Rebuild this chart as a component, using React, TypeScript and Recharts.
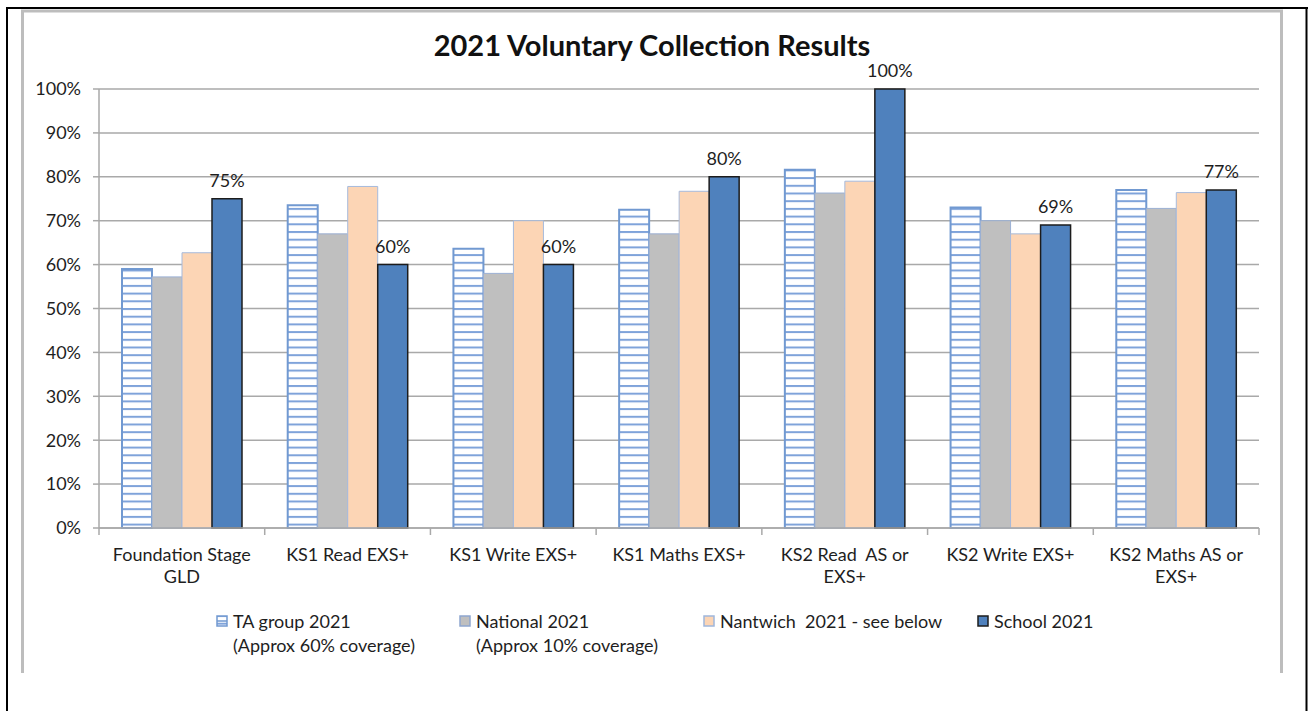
import React from 'react';
import { BarChart, Bar, XAxis, YAxis, CartesianGrid, Legend, LabelList } from 'recharts';

const categories = [
  'Foundation Stage GLD',
  'KS1 Read EXS+',
  'KS1 Write EXS+',
  'KS1 Maths EXS+',
  'KS2 Read  AS or EXS+',
  'KS2 Write EXS+',
  'KS2 Maths AS or EXS+',
];
const categoryLines = [
  ['Foundation Stage', 'GLD'],
  ['KS1 Read EXS+'],
  ['KS1 Write EXS+'],
  ['KS1 Maths EXS+'],
  ['KS2 Read  AS or', 'EXS+'],
  ['KS2 Write EXS+'],
  ['KS2 Maths AS or', 'EXS+'],
];
const taGroup = [59, 73.5, 63.6, 72.5, 81.6, 73, 77];
const national = [57.2, 67, 58, 67, 76.3, 70, 72.8];
const nantwich = [62.7, 77.8, 70, 76.7, 79, 67, 76.4];
const school = [75, 60, 60, 80, 100, 69, 77];
const yTicks = [0, 10, 20, 30, 40, 50, 60, 70, 80, 90, 100];

const seriesNames = ['TA group 2021', 'National 2021', 'Nantwich  2021 - see below', 'School 2021'];
const seriesNotes = ['(Approx 60% coverage)', '(Approx 10% coverage)', '', ''];

const data = categories.map((c, i) => ({
  name: c,
  ta: taGroup[i],
  national: national[i],
  nantwich: nantwich[i],
  school: school[i],
}));

const FONT = 'Lato, "DejaVu Sans", sans-serif';
const TEXT = '#1e1e1e';
const GRID = '#a9a9a9';
const FS = 18;
const W = 1308;
const H = 711;
const PLOT_LEFT = 99;
const PLOT_RIGHT = 1259;
const BAND = (PLOT_RIGHT - PLOT_LEFT) / categories.length;

const XTick = (props: any) => {
  const { x, y, payload } = props;
  const idx = payload.index;
  const lines = categoryLines[idx] || [payload.value];
  return (
    <g>
      <line x1={x - BAND / 2} x2={x - BAND / 2} y1={y} y2={y + 7} stroke={GRID} strokeWidth={1.5} />
      {idx === categories.length - 1 && (
        <line x1={x + BAND / 2} x2={x + BAND / 2} y1={y} y2={y + 7} stroke={GRID} strokeWidth={1.5} />
      )}
      {lines.map((l: string, k: number) => (
        <text key={k} x={x} y={y + 33 + k * 22} textAnchor="middle" fontSize={FS} fill={TEXT} fontFamily={FONT} style={{ whiteSpace: 'pre' }}>
          {l}
        </text>
      ))}
    </g>
  );
};

const markers = [
  { fill: 'url(#taStripes)', stroke: '#7199d1' },
  { fill: '#bfbfbf', stroke: '#8ea6cf' },
  { fill: '#fcd5b5', stroke: '#9fb6dc' },
  { fill: '#4f81bd', stroke: '#1c1c1c' },
];
const legendX = [216, 459, 703, 977];

const LegendContent = () => (
  <div style={{ position: 'relative', width: W, height: 60, fontFamily: FONT, fontSize: FS, color: TEXT }}>
    {seriesNames.map((n, i) => (
      <div key={n}>
        <svg style={{ position: 'absolute', left: legendX[i], top: 6 }} width={12} height={12}>
          <rect x={1} y={1} width={10} height={10} fill={markers[i].fill} stroke={markers[i].stroke} strokeWidth={1.5} />
          {i === 0 && <line x1={1} x2={11} y1={6} y2={6} stroke="#7199d1" strokeWidth={1.5} />}
        </svg>
        <div style={{ position: 'absolute', left: legendX[i] + 17, top: 0, lineHeight: '24px', whiteSpace: 'pre' }}>
          {n}
        </div>
        {seriesNotes[i] && (
          <div style={{ position: 'absolute', left: legendX[i] + 17, top: 24, lineHeight: '24px', whiteSpace: 'pre' }}>
            {seriesNotes[i]}
          </div>
        )}
      </div>
    ))}
  </div>
);

export default function App() {
  return (
    <div style={{ position: 'absolute', left: 0, top: 0, width: W, height: H, background: '#fff', overflow: 'hidden' }}>
      <svg style={{ position: 'absolute', left: 0, top: 0 }} width={W} height={H}>
        <defs>
          <pattern id="taStripes" patternUnits="userSpaceOnUse" x={0} y={0} width={10} height={7.7}>
            <rect x={0} y={0} width={10} height={7.7} fill="#ffffff" />
            <rect x={0} y={0} width={10} height={2} fill="#7fa3da" />
          </pattern>
        </defs>
        <rect x={0} y={0} width={W} height={H} fill="#fff" />
        <line x1={7} x2={7} y1={8} y2={H} stroke="#000" strokeWidth={2} />
        <line x1={6} x2={1308} y1={8} y2={8} stroke="#000" strokeWidth={2} />
        <line x1={1306.5} x2={1306.5} y1={8} y2={H} stroke="#000" strokeWidth={2} />
        <path d="M22.5 673 L22.5 11 L1281.5 11 L1281.5 673" fill="none" stroke="#bdbdbd" strokeWidth={3} />
        <text x={652} y={56} textAnchor="middle" fontFamily={FONT} fontWeight={700} fontSize={29} fill="#111">
          2021 Voluntary Collection Results
        </text>
      </svg>
      <div style={{ position: 'absolute', left: 0, top: 0 }}>
        <BarChart
          width={W}
          height={H}
          data={data}
          margin={{ top: 89, right: W - PLOT_RIGHT, left: PLOT_LEFT - 70, bottom: H - 528 - 60 }}
          barGap={0}
          barSize={30}
        >
          <CartesianGrid vertical={false} stroke={GRID} strokeWidth={1.5} />
          <XAxis
            dataKey="name"
            height={60}
            interval={0}
            tick={<XTick />}
            tickLine={false}
            tickSize={0}
            tickMargin={0}
            axisLine={{ stroke: GRID, strokeWidth: 1.5 }}
          />
          <YAxis
            width={70}
            domain={[0, 100]}
            ticks={yTicks}
            interval={0}
            tickFormatter={(v: number) => `${v}%`}
            tick={{ fontSize: FS, fill: TEXT, fontFamily: FONT }}
            tickSize={6}
            tickMargin={12}
            tickLine={{ stroke: GRID, strokeWidth: 1.5 }}
            axisLine={{ stroke: GRID, strokeWidth: 1.5 }}
          />
          <Legend
            verticalAlign="middle"
            align="center"
            layout="horizontal"
            wrapperStyle={{ top: 609, left: 0, width: W }}
            content={<LegendContent />}
          />
          <Bar dataKey="ta" name={seriesNames[0]} fill="url(#taStripes)" stroke="#7199d1" strokeWidth={2} isAnimationActive={false} />
          <Bar dataKey="national" name={seriesNames[1]} fill="#bfbfbf" stroke="#9bb0d4" strokeWidth={1} isAnimationActive={false} />
          <Bar dataKey="nantwich" name={seriesNames[2]} fill="#fcd5b5" stroke="#a6badc" strokeWidth={1} isAnimationActive={false} />
          <Bar dataKey="school" name={seriesNames[3]} fill="#4f81bd" stroke="#1c1c1c" strokeWidth={1.5} isAnimationActive={false}>
            <LabelList
              dataKey="school"
              position="top"
              offset={12}
              formatter={(v: any) => `${v}%`}
              style={{ fontSize: FS, fill: TEXT, fontFamily: FONT }}
            />
          </Bar>
        </BarChart>
      </div>
    </div>
  );
}
